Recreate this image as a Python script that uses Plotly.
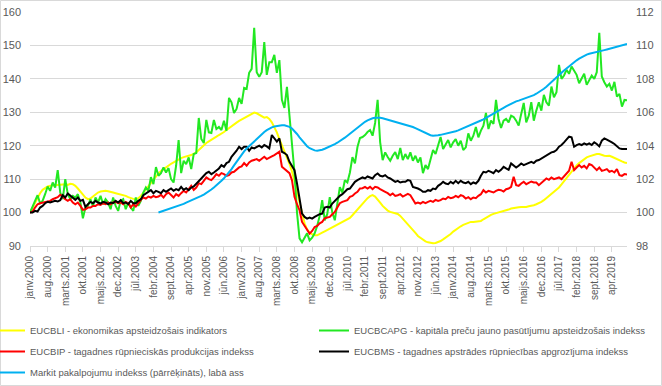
import plotly.graph_objects as go

months_lv = ["janv.", "febr.", "marts.", "apr.", "maijs.", "jūn.", "jūl.", "aug.", "sept.", "okt.", "nov.", "dec."]
n_points = 238  # janv.2000 .. okt.2019
categories = [f"{months_lv[i % 12]}{2000 + i // 12}" for i in range(n_points)]
tick_idx = list(range(0, n_points, 7))
tick_labels = [categories[i] for i in tick_idx]

eucbli = [
    100.0, 101.5, 103.0, 104.5, 105.8, 106.8, 107.4, 107.8, 108.0, 108.1, 108.0, 108.2,
    108.3, 108.4, 108.5, 108.3, 108.6, 108.5, 108.0, 107.2, 106.2, 105.2, 104.5, 104.0,
    104.2, 104.8, 105.5, 106.0, 106.3, 106.5, 106.5, 106.4, 106.3, 106.0, 105.8, 105.6,
    105.5, 105.3, 105.0, 104.6, 104.3, 104.1, 104.0, 104.3, 105.0, 106.0, 107.0, 108.0,
    109.0, 110.0, 110.8, 111.7, 112.4, 113.0, 113.6, 114.1, 114.6, 115.0, 115.5, 116.0,
    116.3, 116.6, 116.9, 117.0, 117.2, 117.5, 118.0, 118.7, 119.5, 120.2, 120.8, 121.3,
    121.7, 122.2, 122.7, 123.2, 123.6, 124.1, 124.7, 125.3, 125.9, 126.4, 126.9, 127.4,
    127.8, 128.2, 128.6, 129.0, 129.5, 129.9, 129.7, 129.2, 128.8, 128.4, 128.6, 128.0,
    127.0, 125.6, 124.0, 122.0, 120.2, 118.5, 116.5, 114.6, 112.3, 109.7, 106.5, 103.0,
    99.5, 96.8, 95.0, 94.0, 93.5, 93.2, 93.2, 93.5, 94.0, 94.4, 94.8, 95.3,
    95.7, 96.1, 96.5, 96.9, 97.3, 97.6, 97.9, 98.4, 99.2, 100.1, 101.0, 101.9,
    102.8, 103.6, 104.3, 104.9, 105.2, 104.8, 104.0, 103.0, 102.0, 101.2, 100.6, 100.2,
    100.0, 99.9, 99.6, 99.0, 98.2, 97.4, 96.5, 95.6, 94.7, 93.9, 93.0, 92.4,
    91.9, 91.4, 91.1, 90.9, 90.8, 90.9, 91.1, 91.5, 92.0, 92.5, 93.0, 93.6,
    94.3, 94.9, 95.4, 95.9, 96.3, 96.6, 96.9, 97.2, 97.2, 97.3, 97.2, 97.5,
    98.0, 98.5, 98.9, 99.3, 99.6, 99.8, 100.0, 100.1, 100.3, 100.6, 100.9, 101.2,
    101.4, 101.5, 101.6, 101.7, 101.6, 101.7, 101.9, 102.0, 102.2, 102.5, 102.8, 103.2,
    103.7, 104.3, 104.9, 105.5, 106.1, 106.7, 107.5, 108.4, 109.4, 110.4, 111.4, 112.4,
    113.3, 114.1, 114.8, 115.4, 116.0, 116.5, 116.8, 117.1, 117.3, 117.5, 117.5, 117.2,
    117.0, 116.9, 117.0, 116.7, 116.3, 116.0, 115.6, 115.3, 115.0, 114.8,
]

eucbcapg = [
    100.0, 101.8, 103.5, 105.2, 102.8, 103.5, 105.5, 107.8, 106.5, 109.0, 107.5, 112.7,
    106.0, 104.0, 110.0, 105.5, 104.0, 105.0, 104.5, 105.5, 103.0, 98.3, 101.5, 102.0,
    104.0, 101.8, 104.5, 103.0, 105.0, 102.5, 104.0, 103.0, 101.0, 104.5, 102.0, 100.5,
    103.5, 104.0, 101.0, 103.0, 101.5, 100.5, 104.5, 102.0, 103.5, 106.0, 107.5, 106.5,
    110.6, 108.5, 113.6, 111.0, 111.8, 113.5, 112.0, 113.3, 110.0, 109.0, 114.0, 121.7,
    111.8, 115.5, 114.5, 116.5, 113.0, 117.5, 117.8, 128.3, 122.0, 120.8, 127.7, 124.0,
    123.8, 127.7, 125.0, 125.6, 124.7, 127.5, 124.5, 134.3, 133.0, 129.8, 131.0, 134.3,
    132.5, 137.3, 137.0, 141.8, 143.0, 155.3, 142.0, 140.6, 142.0, 151.0, 141.2, 145.0,
    145.0, 147.2, 141.8, 145.6, 133.7, 131.3, 137.6, 129.8, 121.0, 112.0, 100.0, 92.3,
    91.1, 92.5, 93.8, 91.7, 92.5, 93.8, 96.0, 99.0, 103.7, 97.7, 99.5, 104.6,
    100.0, 97.7, 103.0, 107.6, 106.0, 109.7, 109.0, 112.0, 116.6, 114.7, 119.6, 122.3,
    122.6, 123.2, 124.1, 124.7, 123.0, 126.8, 133.7, 121.1, 115.7, 118.0, 116.6, 115.5,
    117.0, 118.1, 116.0, 119.3, 115.7, 117.5, 116.0, 118.0, 115.5, 117.0, 115.0, 116.5,
    111.8, 114.2, 113.0, 116.0, 118.7, 117.5, 120.5, 122.6, 119.0, 120.5, 121.7, 119.5,
    121.0, 122.0, 120.0, 121.5, 118.7, 119.5, 123.7, 121.5, 123.0, 125.6, 122.5, 124.5,
    126.0, 129.8, 125.0, 127.5, 126.5, 133.7, 128.0, 125.3, 127.5, 128.0, 127.0, 129.0,
    128.6, 127.5, 126.0, 129.5, 132.8, 127.0, 129.0, 133.0, 127.5, 130.5, 133.0, 130.5,
    135.2, 133.0, 132.0, 137.7, 134.5, 136.0, 144.2, 140.0, 141.0, 142.7, 141.5, 143.7,
    142.5, 141.2, 138.7, 140.0, 141.5, 138.2, 139.5, 141.0, 140.0, 142.0, 153.8, 140.7,
    139.0, 137.7, 138.5, 136.5, 139.1, 134.7, 135.5, 131.7, 133.7, 133.6,
]

eucbip = [
    100.0, 100.3, 101.5, 102.5, 102.8, 103.0, 103.0, 103.3, 103.5, 104.0, 104.3, 104.6,
    105.3, 104.8, 104.0, 103.5, 104.0, 103.0, 102.5, 103.0, 102.0, 100.8, 101.0, 101.5,
    101.5, 102.0, 102.0, 102.5, 102.3, 102.8, 102.5, 103.0, 102.5, 103.0, 103.2, 102.8,
    103.0, 102.5, 103.2, 102.8, 101.5, 102.5, 101.8, 103.0, 103.8, 104.5, 104.2, 104.8,
    104.5, 105.0, 104.6, 104.8, 105.3, 104.5, 105.5, 106.0, 105.2, 104.5, 105.5, 105.0,
    105.8, 106.5, 106.0, 107.0, 108.0, 106.8, 107.5, 108.8, 108.5, 109.5, 110.5, 110.0,
    109.7, 110.5, 111.5, 111.0, 111.8, 111.5, 111.0, 111.2, 112.0, 112.2, 113.0, 113.5,
    113.8, 114.8, 114.0, 115.0, 115.5, 115.7, 116.0, 115.5, 116.2, 116.7, 116.0, 116.3,
    116.8, 117.2, 117.8, 118.2, 113.7, 113.0, 112.5, 111.8, 109.7, 104.7, 102.5, 100.7,
    97.2, 96.0, 94.7, 93.7, 94.5, 95.7, 96.0, 96.8, 97.2, 98.3, 98.5, 98.7,
    99.5, 100.2, 101.5, 102.8, 103.2, 103.5, 103.7, 104.7, 105.0, 105.7, 106.2, 107.2,
    107.3, 107.7, 107.2, 107.7, 107.0, 107.7, 107.5, 107.0, 106.5, 106.2, 105.8, 105.2,
    105.7, 105.0, 105.2, 105.5, 104.8, 105.2, 105.6, 105.2, 104.0, 102.7, 103.0, 102.7,
    103.2, 102.8, 103.2, 103.5, 103.2, 103.8, 103.5, 103.7, 104.2, 104.0, 104.7, 104.3,
    104.5, 105.0, 104.6, 105.2, 104.9, 104.2, 104.6, 104.0, 104.5, 104.3, 105.0, 105.5,
    106.7, 106.0, 106.5, 106.3, 106.0, 106.5, 106.8, 106.7, 106.3, 107.0, 107.2, 107.7,
    110.7, 108.2, 108.0, 108.7, 109.2, 108.5, 108.8, 109.3, 109.0, 109.0, 108.2, 108.8,
    109.5, 110.2, 109.8, 110.5, 110.0, 110.2, 110.5, 110.0, 110.8, 111.5, 112.5, 115.2,
    112.7, 113.5, 114.2, 113.5, 114.0, 113.2, 114.5, 114.2, 113.5, 112.7, 113.5, 112.5,
    112.7, 113.0, 112.2, 112.5, 112.0, 113.0, 111.2, 111.0, 111.5, 111.4,
]

eucbms = [
    100.0, 100.0, 100.5, 100.3, 101.5, 102.0, 102.8, 103.2, 103.0, 103.2, 103.5, 103.3,
    103.7, 105.2, 104.5, 105.7, 105.0, 104.2, 103.8, 104.5, 103.5, 103.8, 101.7, 102.5,
    103.2, 102.8, 103.5, 103.0, 102.7, 103.2, 103.0, 102.5, 103.0, 102.8, 103.5, 103.0,
    103.7, 102.8, 103.0, 102.5, 103.5, 102.8, 102.8, 103.5, 104.0, 105.2, 105.7, 106.2,
    106.7, 105.8, 106.5, 106.2, 105.8, 106.7, 106.2, 106.7, 107.2, 106.5, 107.0, 106.7,
    107.7, 106.8, 107.3, 106.7, 107.5, 107.8, 108.7, 109.5, 110.2, 111.0, 111.8, 112.2,
    111.5, 112.0, 112.5, 113.2, 114.2, 113.7, 114.8, 115.2, 116.7, 117.5, 118.5, 119.7,
    119.0, 119.7, 119.7, 118.5, 119.5, 119.2, 119.5, 120.0, 119.5, 120.2, 119.8, 119.2,
    123.2, 122.0, 121.2, 122.2, 118.2, 117.8, 117.2, 115.2, 114.0, 112.7, 108.7, 103.7,
    99.7, 98.7, 98.2, 98.5, 98.2, 98.7, 99.2, 99.5, 99.7, 101.5, 101.7, 101.5,
    102.7, 103.5, 104.2, 105.0, 105.5, 106.2, 107.0, 107.2, 108.2, 109.2, 109.7, 110.2,
    110.5, 110.2, 110.8, 110.5, 110.2, 111.2, 111.7, 111.0, 110.8, 111.2, 110.5, 110.2,
    109.7, 109.2, 109.5, 109.0, 109.2, 109.2, 109.7, 109.5, 107.7, 107.5, 107.2, 106.8,
    106.2, 106.2, 106.7, 106.5, 107.2, 107.0, 108.0, 108.5, 109.2, 108.7, 108.5, 109.2,
    108.7, 109.5, 108.8, 109.5, 109.0, 108.8, 109.2, 108.5, 109.0, 108.7, 109.5, 111.0,
    112.2, 112.0, 112.5, 112.2, 111.8, 112.7, 112.2, 112.8, 113.7, 113.2, 112.8, 114.7,
    114.2, 113.5, 114.0, 114.7, 114.2, 114.5, 115.0, 115.2, 114.8, 115.5, 115.7, 116.2,
    116.5, 117.2, 117.5, 118.0, 118.2, 118.7, 119.7, 120.2, 121.0, 121.7, 122.7, 122.5,
    119.7, 120.2, 120.5, 120.2, 120.7, 120.3, 120.7, 120.2, 121.0, 120.5, 119.8, 121.5,
    122.2, 121.8, 121.5, 121.0, 120.5, 119.8, 119.2, 119.0, 119.0, 119.0,
]

markit = [None] * 51 + [
    100.00, 100.05, 100.10, 100.15, 100.20, 100.25, 100.30, 100.35, 100.40,
    100.45, 100.52, 100.60, 100.66, 100.72, 100.78, 100.85, 100.92, 101.00, 101.08, 101.17, 101.27,
    101.38, 101.50, 101.62, 101.75, 101.90, 102.05, 102.22, 102.40, 102.60, 102.82, 103.05, 103.28,
    103.48, 103.66, 103.83, 103.98, 104.13, 104.28, 104.42, 104.56, 104.70, 104.82, 104.93, 105.03,
    105.10, 105.15, 105.19, 105.22, 105.23, 105.22, 105.19, 105.13, 105.03, 104.88, 104.70, 104.50,
    104.30, 104.12, 103.97, 103.85, 103.77, 103.72, 103.70, 103.72, 103.76, 103.82, 103.88, 103.95,
    104.02, 104.10, 104.18, 104.27, 104.37, 104.48, 104.60, 104.72, 104.85, 104.98, 105.10, 105.22,
    105.33, 105.43, 105.52, 105.59, 105.64, 105.67, 105.68, 105.67, 105.64, 105.60, 105.56, 105.52,
    105.48, 105.44, 105.40, 105.36, 105.32, 105.28, 105.23, 105.18, 105.12, 105.05, 104.98, 104.90,
    104.82, 104.75, 104.68, 104.63, 104.60, 104.60, 104.62, 104.65, 104.68, 104.71, 104.74, 104.78,
    104.82, 104.87, 104.92, 104.98, 105.04, 105.10, 105.16, 105.23, 105.30, 105.37, 105.44, 105.51,
    105.58, 105.66, 105.74, 105.82, 105.91, 106.00, 106.09, 106.18, 106.27, 106.36, 106.44, 106.52,
    106.59, 106.65, 106.70, 106.75, 106.80, 106.85, 106.90, 106.96, 107.03, 107.11, 107.20, 107.30,
    107.41, 107.53, 107.66, 107.80, 107.94, 108.08, 108.22, 108.36, 108.50, 108.63, 108.76, 108.88,
    109.00, 109.11, 109.21, 109.30, 109.38, 109.45, 109.50, 109.53, 109.56, 109.60, 109.64, 109.68,
    109.72, 109.76, 109.80, 109.84, 109.88, 109.92, 109.96, 110.00, 110.04, 110.08,
]

series_names = [
    "EUCBLI - ekonomikas apsteidzošais indikators",
    "EUCBCAPG - kapitāla preču jauno pasūtījumu apsteidzošais indekss",
    "EUCBIP - tagadnes rūpnieciskās produkcijas indekss",
    "EUCBMS - tagadnes apstrādes rūpniecības apgrozījuma indekss",
    "Markit pakalpojumu indekss (pārrēķināts), labā ass",
]
colors = ["#FFFF00", "#22E822", "#FF0000", "#000000", "#00B0F0"]

x = list(range(n_points))
FONT = "Liberation Sans"
GRAY = "#595959"
GRID = "#D9D9D9"

fig = go.Figure()
data = [eucbli, eucbcapg, eucbip, eucbms]
legend_of = ["legend", "legend2", "legend", "legend2"]
for k in range(4):
    fig.add_trace(go.Scatter(
        x=x, y=data[k], mode="lines", name=series_names[k],
        line=dict(color=colors[k], width=2), legend=legend_of[k],
        legendgroup=f"g{k}", hoverinfo="skip",
    ))
fig.add_trace(go.Scatter(
    x=x, y=markit, mode="lines", name=series_names[4], yaxis="y2",
    line=dict(color=colors[4], width=2), legend="legend",
    legendgroup="g4", hoverinfo="skip",
))

# plot area: x 30..627, y 12..246
W, H = 662, 386
L, R, T, B = 30, 35, 12, 140
pw, ph = W - L - R, H - T - B

def px_x(p):
    return (p - L) / pw

def px_y(p):
    return (T + ph - p) / ph

LEG_FONT = dict(size=9.5, color=GRAY, family=FONT)

fig.update_layout(
    width=W, height=H,
    margin=dict(l=L, r=R, t=T, b=B, autoexpand=False),
    paper_bgcolor="white", plot_bgcolor="white",
    font=dict(family=FONT, color=GRAY, size=10),
    xaxis=dict(
        range=[0, n_points - 1], tickmode="array", tickvals=tick_idx, ticktext=tick_labels,
        tickangle=-90, tickfont=dict(size=10, color=GRAY, family=FONT),
        showgrid=False, zeroline=False, showline=True, linecolor=GRID, linewidth=1,
        ticks="outside", ticklen=5, tickcolor=GRID,
    ),
    yaxis=dict(
        range=[90, 160], dtick=10, showgrid=True, gridcolor=GRID, gridwidth=1,
        zeroline=False, showline=False, ticks="", tickfont=dict(size=11, color=GRAY, family=FONT),
        ticklabelstandoff=8,
    ),
    yaxis2=dict(
        range=[98, 112], dtick=2, overlaying="y", side="right", showgrid=False,
        zeroline=False, showline=False, ticks="", tickfont=dict(size=11, color=GRAY, family=FONT),
        ticklabelstandoff=8,
    ),
    legend=dict(
        orientation="v", x=px_x(-10), y=px_y(316), xanchor="left", yanchor="top",
        font=LEG_FONT, tracegroupgap=2, itemwidth=30,
        bgcolor="rgba(0,0,0,0)",
    ),
    legend2=dict(
        orientation="v", x=px_x(314), y=px_y(316), xanchor="left", yanchor="top",
        font=LEG_FONT, tracegroupgap=2, itemwidth=30,
        bgcolor="rgba(0,0,0,0)",
    ),
    shapes=[dict(
        type="rect", xref="paper", yref="paper",
        x0=px_x(0.5), x1=px_x(661.5), y0=px_y(385.5), y1=px_y(0.5),
        line=dict(color=GRID, width=1), fillcolor="rgba(0,0,0,0)", layer="below",
    )],
    showlegend=True,
)

fig.write_html(
    "out.html",
    config={"displayModeBar": False},
    post_script="document.body.style.margin='0px';document.body.style.padding='0px';",
)
